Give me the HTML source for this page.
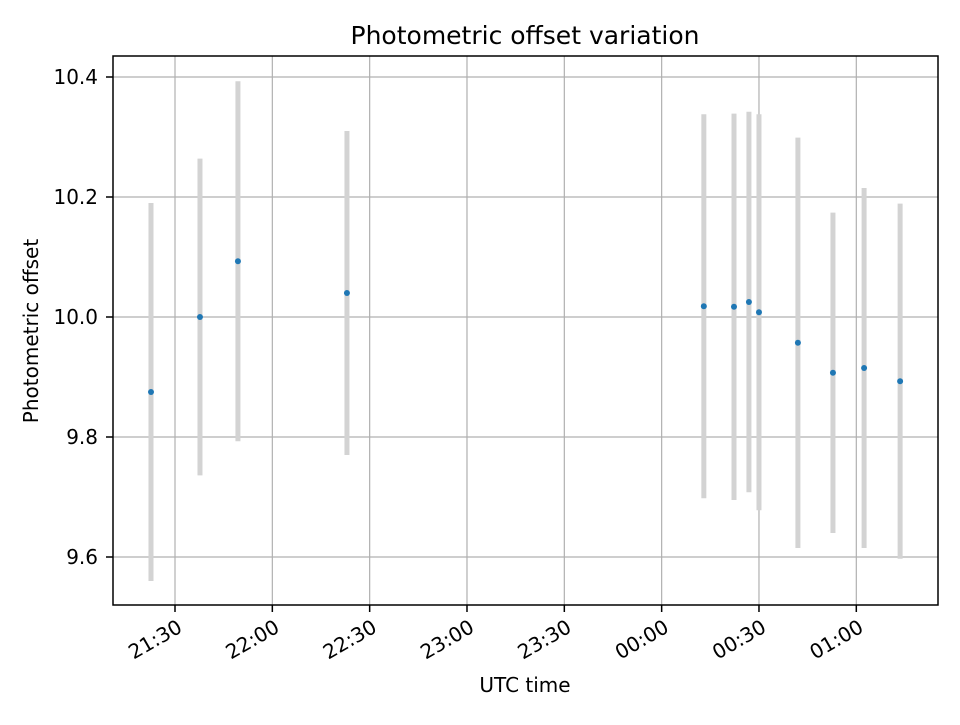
<!DOCTYPE html>
<html><head><meta charset="utf-8"><style>
body{margin:0;background:#fff;}
svg text{font-family:"DejaVu Sans","Liberation Sans",sans-serif;fill:#000;}
</style></head><body>
<svg id="chart" width="960" height="720" xmlns="http://www.w3.org/2000/svg">
<rect width="960" height="720" fill="#fff"/>
<text x="525" y="44" font-size="25" text-anchor="middle">Photometric offset variation</text>
<g id="grid"></g>
<g id="bars"></g>
<g id="pts"></g>
<rect x="113" y="56" width="825" height="549" fill="none" stroke="#000" stroke-width="1.5"/>
<g id="axes"></g>
<text x="525" y="692" font-size="20" text-anchor="middle">UTC time</text>
<text transform="translate(38,331) rotate(-90)" font-size="20" text-anchor="middle">Photometric offset</text>
</svg>
<script>
// minutes since 21:30 UTC
const times=[-7.4,7.7,19.4,53,163,172.3,176.9,180,192,202.8,212.4,223.5];
const offsets=[9.875,10.0,10.093,10.04,10.018,10.017,10.025,10.008,9.957,9.907,9.915,9.893];
const errors=[0.315,0.264,0.3,0.27,0.32,0.322,0.317,0.33,0.342,0.267,0.3,0.296];
const xTickMinutes=[0,30,60,90,120,150,180,210];
const xTickLabels=["21:30","22:00","22:30","23:00","23:30","00:00","00:30","01:00"];
const yTicks=[9.6,9.8,10.0,10.2,10.4];
const yTickLabels=["9.6","9.8","10.0","10.2","10.4"];

const NS="http://www.w3.org/2000/svg";
function X(m){return 175+m*97.33/30;}
function Y(v){return 317-(v-10)*600;}
function mk(t,a,p){const e=document.createElementNS(NS,t);for(const k in a)e.setAttribute(k,a[k]);p.appendChild(e);return e;}
const grid=document.getElementById('grid'),axes=document.getElementById('axes');
xTickMinutes.forEach((m,i)=>{
  const x=X(m);
  const g=mk('line',{x1:x,x2:x,y1:56,y2:605,stroke:'#b0b0b0','stroke-width':1.2},grid);
  
  
  const t=mk('line',{x1:x,x2:x,y1:605,y2:612,stroke:'#000','stroke-width':1.5},axes);
  
  
  const l=mk('text',{x:x+1,y:618,'font-size':20,'text-anchor':'end',transform:`rotate(-30 ${x+1} 618)`,dy:'0.75em'},axes);
  l.textContent=xTickLabels[i];
  
  
});
yTicks.forEach((v,i)=>{
  const y=Y(v);
  const g=mk('line',{x1:113,x2:938,y1:y,y2:y,stroke:'#b0b0b0','stroke-width':1.2},grid);
  
  
  const t=mk('line',{x1:106,x2:113,y1:y,y2:y,stroke:'#000','stroke-width':1.5},axes);
  
  
  const l=mk('text',{x:98,y:y+7,'font-size':20,'text-anchor':'end'},axes);
  l.textContent=yTickLabels[i];
  
  
});
const bars=document.getElementById('bars'),pts=document.getElementById('pts');
times.forEach((m,i)=>{
  const x=X(m);
  const b=mk('line',{x1:x,x2:x,y1:Y(offsets[i]+errors[i]),y2:Y(offsets[i]-errors[i]),stroke:'#d3d3d3','stroke-width':5},bars);
  
  
  const c=mk('circle',{cx:x,cy:Y(offsets[i]),r:3,fill:'#1f77b4'},pts);
  
  
});
</script>
</body></html>
